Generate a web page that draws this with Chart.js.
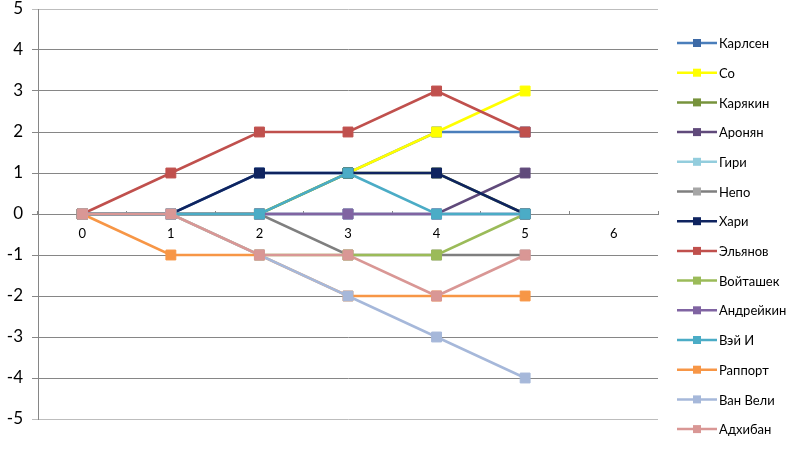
<!DOCTYPE html>
<html lang="ru">
<head>
    <meta charset="UTF-8">
    <title>Турнирная гонка</title>
    <script src="https://cdn.jsdelivr.net/npm/chart.js"></script>
    <style>
        html, body { margin: 0; padding: 0; background: #fff; }
        #wrap { width: 795px; height: 452px; }
    </style>
</head>
<body>
    <div id="wrap"><canvas id="raceChart"></canvas></div>

    <script>
        // rounds on the x axis (6 has no results yet)
        const rounds = ['0', '1', '2', '3', '4', '5', '6'];

        const players = ['Карлсен', 'Со', 'Карякин', 'Аронян', 'Гири', 'Непо', 'Хари',
            'Эльянов', 'Войташек', 'Андрейкин', 'Вэй И', 'Раппорт', 'Ван Вели', 'Адхибан'];

        // score (+/-) after each round
        const carlsen   = [0, 0, 1, 1, 2, 2];
        const so        = [0, 0, 0, 1, 2, 3];
        const karjakin  = [0, 0, 0, 1, 1, 0];
        const aronian   = [0, 0, 0, 0, 0, 1];
        const giri      = [0, 0, 0, 0, 0, 0];
        const nepo      = [0, 0, 0, -1, -1, -1];
        const hari      = [0, 0, 1, 1, 1, 0];
        const eljanov   = [0, 1, 2, 2, 3, 2];
        const wojtaszek = [0, 0, -1, -1, -1, 0];
        const andreikin = [0, 0, 0, 0, 0, 0];
        const weiYi     = [0, 0, 0, 1, 0, 0];
        const rapport   = [0, -1, -1, -2, -2, -2];
        const vanWely   = [0, 0, -1, -2, -3, -4];
        const adhiban   = [0, 0, -1, -1, -2, -1];

        const scores = [carlsen, so, karjakin, aronian, giri, nepo, hari,
            eljanov, wojtaszek, andreikin, weiYi, rapport, vanWely, adhiban];

        const yTicks = [-5, -4, -3, -2, -1, 0, 1, 2, 3, 4, 5];

        const lineColors = ['#4A7EBB', '#FFFF00', '#77933C', '#604A7B', '#93CDDD', '#7F7F7F', '#0F2460',
            '#C0504D', '#9BBB59', '#8064A2', '#4BACC6', '#F79646', '#A6B8DA', '#D99795'];
        const markerColors = ['#3D6AA6', '#FFFF00', '#77933C', '#604A7B', '#93CDDD', '#A6A6A6', '#0F2460',
            '#C0504D', '#9BBB59', '#8064A2', '#4BACC6', '#F79646', '#A6B8DA', '#D99795'];

        const font = 'Lato, "Open Sans", sans-serif';

        const datasets = players.map((name, i) => ({
            label: name,
            data: scores[i],
            borderColor: lineColors[i],
            backgroundColor: markerColors[i],
            borderWidth: 2.5,
            pointStyle: 'rect',
            pointRadius: 7,
            pointHoverRadius: 7,
            pointBackgroundColor: markerColors[i],
            pointBorderColor: markerColors[i],
            pointBorderWidth: 1,
            tension: 0,
            order: players.length - i   // later series sit on top, as in Excel
        }));

        // legend on the right, line + square marker per series
        const sideLegend = {
            id: 'sideLegend',
            afterDraw(chart) {
                const ctx = chart.ctx;
                ctx.save();
                ctx.font = '13px ' + font;
                ctx.textBaseline = 'middle';
                chart.data.datasets.forEach((ds, i) => {
                    const y = 43 + i * 29.7;
                    ctx.strokeStyle = ds.borderColor;
                    ctx.lineWidth = 2.5;
                    ctx.beginPath();
                    ctx.moveTo(677, y);
                    ctx.lineTo(717, y);
                    ctx.stroke();
                    ctx.fillStyle = ds.pointBackgroundColor;
                    ctx.fillRect(693, y - 4, 8, 8);
                    ctx.fillStyle = '#000';
                    ctx.fillText(ds.label, 719, y + 1);
                });
                ctx.restore();
            }
        };

        new Chart(document.getElementById('raceChart'), {
            type: 'line',
            data: { labels: rounds, datasets: datasets },
            options: {
                responsive: true,
                maintainAspectRatio: false,
                animation: false,
                layout: { padding: { left: 0, right: 137, top: 9, bottom: 33 } },
                plugins: {
                    legend: { display: false },
                    tooltip: { enabled: false }
                },
                scales: {
                    x: {
                        type: 'category',
                        offset: true,
                        position: { y: 0 },
                        grid: {
                            offset: true,
                            drawOnChartArea: false,
                            drawTicks: true,
                            tickLength: -4,
                            color: '#868686'
                        },
                        border: { display: true, color: '#868686', width: 1 },
                        ticks: {
                            color: '#000',
                            font: { family: font, size: 13 },
                            padding: 16,
                            maxRotation: 0
                        }
                    },
                    y: {
                        min: -5,
                        max: 5,
                        afterBuildTicks: scale => {
                            scale.ticks = yTicks.map(v => ({ value: v }));
                        },
                        afterFit: scale => {
                            scale.width = 38;
                            scale.paddingTop = 0;
                            scale.paddingBottom = 0;
                        },
                        grid: {
                            color: ctx => (Math.abs(ctx.tick && ctx.tick.value) === 5 ? '#BDBDBD' : '#868686'),
                            tickLength: 6,
                            lineWidth: 1
                        },
                        border: { display: true, color: '#868686', width: 1 },
                        ticks: {
                            color: '#000',
                            font: { family: font, size: 17 },
                            padding: 9
                        }
                    }
                }
            },
            plugins: [sideLegend]
        });
    </script>
</body>
</html>
